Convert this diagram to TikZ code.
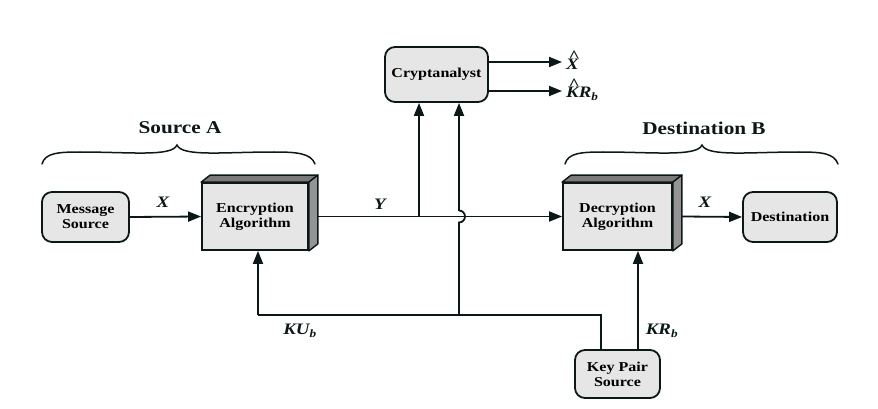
\documentclass[tikz,border=0pt]{standalone}
\usepackage{fontspec}
\setmainfont{Liberation Serif}
\newfontfamily\stretchserif[FakeStretch=1.18]{Liberation Serif}
\usetikzlibrary{arrows.meta}
\definecolor{ink}{HTML}{0C1818}
\definecolor{boxfill}{HTML}{E6E6E6}
\definecolor{topface}{HTML}{7A7A7A}
\definecolor{sideface}{HTML}{949494}
\newcommand{\boxfnt}{\stretchserif\bfseries\fontsize{13.6}{15}\selectfont}
\newcommand{\headfnt}{\stretchserif\bfseries\fontsize{18}{20}\selectfont}
\newcommand{\symfnt}{\stretchserif\bfseries\itshape\fontsize{16}{18}\selectfont}
\newcommand{\tallhat}[1]{\ooalign{#1\cr\hidewidth\kern3pt\raisebox{8pt}{\^{}}\hidewidth\cr}}
\begin{document}
\begin{tikzpicture}[x=1pt,y=-1pt,
  rbox/.style={draw=ink,line width=1.8pt,fill=boxfill,rounded corners=10pt,font=\boxfnt,align=center,inner sep=0pt},
  algbox/.style={draw=ink,line width=1.8pt,fill=boxfill,font=\boxfnt,align=center,inner sep=0pt,minimum width=106pt,minimum height=67pt},
  face/.style={draw=ink,line width=1.4pt,line join=round},
  wire/.style={draw=ink,line width=1.8pt},
  arr/.style={wire,-{Triangle[length=13pt,width=10pt]}},
  lab/.style={font=\symfnt,text=ink,inner sep=0pt},
  head/.style={font=\headfnt,text=ink,inner sep=0pt},
  brace/.style={draw=ink,line width=1.5pt,line cap=round}]
\useasboundingbox (0,0) rectangle (878,409);

% boxes
\node[rbox,minimum width=87pt,minimum height=50pt] (msg) at (85.5,217) {Message\\Source};
\node[algbox] (enc) at (255,216.5) {Encryption\\Algorithm};
\node[algbox,minimum width=109pt] (dec) at (617.5,216.5) {Decryption\\Algorithm};
\node[rbox,minimum width=94pt,minimum height=50pt] (dst) at (790,217) {Destination};
\node[rbox,minimum width=103pt,minimum height=55pt] (cry) at (436.5,74.5) {Cryptanalyst};
\node[rbox,minimum width=85pt,minimum height=48pt] (kps) at (617.5,374) {Key Pair\\Source};

% 3D faces
\foreach \b in {enc,dec}{
  \filldraw[face,fill=topface] (\b.north west) -- ([shift={(9,-7)}]\b.north west) -- ([shift={(9,-7)}]\b.north east) -- (\b.north east) -- cycle;
  \filldraw[face,fill=sideface] (\b.north east) -- ([shift={(9,-7)}]\b.north east) -- ([shift={(9,-7)}]\b.south east) -- (\b.south east) -- cycle;
}

% junction coordinates
\coordinate (jy) at (419,216.5);
\coordinate (jb) at (459,315);
\coordinate (jl) at (258,315);
\coordinate (jr) at (601,315);
\coordinate (hopbot) at (459,222.5);
\coordinate (hoptop) at (459,210.5);
\coordinate (krx) at (638,0);
\coordinate (xhat) at (562,62);
\coordinate (krhat) at (562,91);

% connectors
\draw[arr] (msg.east) -- (enc.west);
\draw[arr] ([xshift=9pt]enc.east) -- (dec.west);
\draw[arr] ([xshift=9pt]dec.east) -- (dst.west);
\draw[arr] (jy) -- (jy |- cry.south);
\draw[wire] (jb) -- (hopbot) arc[start angle=-90,end angle=90,radius=6pt];
\draw[arr] (hoptop) -- (hoptop |- cry.south);
\draw[wire] (kps.north -| jr) -- (jr) -- (jl);
\draw[arr] (jl) -- (enc.south -| jl);
\draw[arr] (kps.north -| krx) -- (dec.south -| krx);
\draw[arr] (cry.east |- xhat) -- (xhat);
\draw[arr] (cry.east |- krhat) -- (krhat);

% labels
\node[lab] (lx1) at (163,202) {X};
\node[lab] (ly) at (380,204) {Y};
\node[lab] (lx2) at (705,202) {X};
\node[lab] (lku) at (300,331) {KU\textsubscript{\itshape b}};
\node[lab] (lkr) at (662,331) {KR\textsubscript{\itshape b}};
\node[lab,anchor=base west] (lxh) at (566,70) {\tallhat{X}};
\node[lab,anchor=base west] (lkrh) at (566,98) {\tallhat{K}R\textsubscript{\itshape b}};

% braces and headings
\node[head] (srcA) at (180,128) {Source A};
\node[head] (dstB) at (704,128) {Destination B};
\draw[brace] (42,164) .. controls (45,153) and (58,152) .. (80,152)
  .. controls (130,152) and (172,157) .. (177,145)
  .. controls (182,157) and (224,152) .. (274,152)
  .. controls (296,152) and (311,153) .. (315,164);
\draw[brace] (565,164) .. controls (568,153) and (581,152) .. (603,152)
  .. controls (653,152) and (697,157) .. (702,145)
  .. controls (707,157) and (749,152) .. (799,152)
  .. controls (821,152) and (834,153) .. (838,164);
\end{tikzpicture}
\end{document}
